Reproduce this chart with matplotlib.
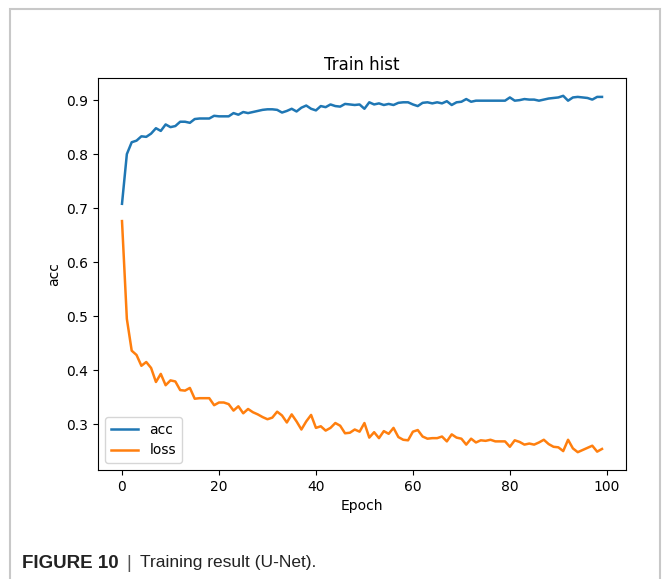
import matplotlib
matplotlib.use("Agg")
import matplotlib.pyplot as plt
from matplotlib.patches import Rectangle

epochs = list(range(100))

acc = [0.708, 0.800, 0.822, 0.825, 0.833, 0.832, 0.838, 0.848, 0.843, 0.855,
       0.850, 0.852, 0.860, 0.860, 0.858, 0.865, 0.866, 0.866, 0.866, 0.871,
       0.870, 0.870, 0.870, 0.876, 0.873, 0.878, 0.876, 0.878, 0.880, 0.882,
       0.883, 0.883, 0.882, 0.877, 0.880, 0.884, 0.879, 0.886, 0.890, 0.884,
       0.881, 0.889, 0.887, 0.892, 0.889, 0.888, 0.893, 0.892, 0.891, 0.892,
       0.884, 0.896, 0.892, 0.894, 0.891, 0.893, 0.891, 0.895, 0.896, 0.896,
       0.892, 0.889, 0.895, 0.896, 0.894, 0.896, 0.894, 0.898, 0.891, 0.896,
       0.897, 0.902, 0.897, 0.899, 0.899, 0.899, 0.899, 0.899, 0.899, 0.899,
       0.905, 0.899, 0.900, 0.902, 0.901, 0.901, 0.899, 0.901, 0.903, 0.904,
       0.905, 0.908, 0.899, 0.905, 0.906, 0.905, 0.904, 0.901, 0.906, 0.906]

loss = [0.676, 0.495, 0.436, 0.428, 0.408, 0.415, 0.404, 0.378, 0.393, 0.372,
        0.381, 0.379, 0.363, 0.362, 0.367, 0.347, 0.348, 0.348, 0.348, 0.335,
        0.340, 0.340, 0.337, 0.325, 0.333, 0.320, 0.328, 0.322, 0.318, 0.313,
        0.309, 0.312, 0.323, 0.316, 0.303, 0.318, 0.305, 0.290, 0.305, 0.317,
        0.293, 0.296, 0.288, 0.293, 0.302, 0.297, 0.283, 0.284, 0.290, 0.286,
        0.302, 0.275, 0.285, 0.274, 0.287, 0.282, 0.293, 0.276, 0.271, 0.270,
        0.286, 0.289, 0.277, 0.273, 0.274, 0.274, 0.277, 0.268, 0.281, 0.275,
        0.273, 0.262, 0.273, 0.266, 0.270, 0.269, 0.271, 0.268, 0.268, 0.268,
        0.258, 0.270, 0.267, 0.262, 0.264, 0.262, 0.266, 0.271, 0.263, 0.258,
        0.257, 0.250, 0.271, 0.255, 0.248, 0.252, 0.256, 0.260, 0.249, 0.254]

fig = plt.figure(figsize=(6.63, 5.79), dpi=100)

# journal frame around the figure
fig.patches.append(Rectangle((10 / 663, -0.05), 650 / 663, 1.05 - 9 / 579,
                             transform=fig.transFigure, fill=False,
                             edgecolor="#c8c8c8", linewidth=1.5))

ax = fig.add_axes([98 / 663, 109 / 579, 528 / 663, 392 / 579])
ax.plot(epochs, acc, color="#1f77b4", linewidth=1.8, label="acc")
ax.plot(epochs, loss, color="#ff7f0e", linewidth=1.8, label="loss")
ax.set_title("Train hist", fontsize=12)
ax.set_xlabel("Epoch", fontsize=10)
ax.set_ylabel("acc", fontsize=10)
ax.tick_params(labelsize=10)
ax.legend(loc="lower left", fontsize=10)

# caption, placed piece by piece
fig.canvas.draw()
r = fig.canvas.get_renderer()
ycap = 1 - 563 / 579
t1 = fig.text(22 / 663, ycap, "FIGURE 10", fontsize=13.5, weight="bold",
              family="Liberation Sans", va="center", color="#222222")
x = t1.get_window_extent(r).x1 + 8
t2 = fig.text(x / 663, ycap, "|", fontsize=13, family="Liberation Sans",
              va="center", color="#555555")
x = t2.get_window_extent(r).x1 + 9
fig.text(x / 663, ycap, "Training result (U-Net).", fontsize=12.5,
         family="Liberation Sans", va="center", color="#222222")

fig.savefig("out.png", dpi=100)
